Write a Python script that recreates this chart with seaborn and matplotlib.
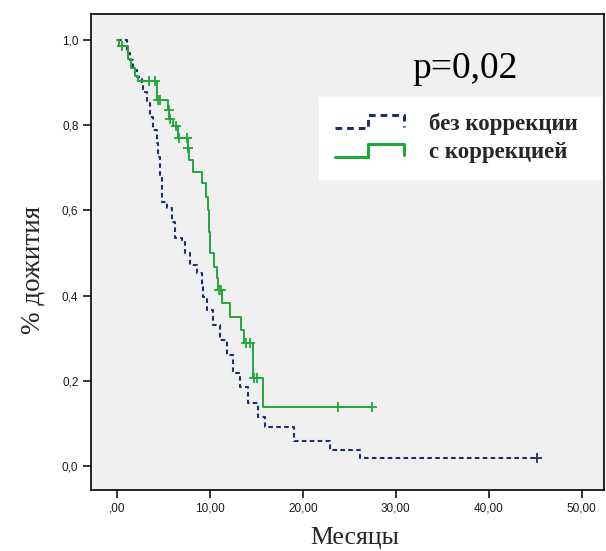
import matplotlib
matplotlib.use("Agg")
import matplotlib.pyplot as plt
import seaborn as sns
import pandas as pd
from matplotlib.lines import Line2D
from matplotlib.legend_handler import HandlerLine2D
from matplotlib.font_manager import FontProperties

# ---- data ----
blue_label = "без коррекции"
green_label = "с коррекцией"

blue_t = [0, 1.1, 1.4, 1.7, 2.2, 2.7, 2.8, 3.2, 3.6, 3.9, 4.3, 4.4, 4.6, 4.8, 5.4, 5.9, 6.2, 7.0,
          7.3, 7.9, 8.6, 9.1, 9.3, 9.7, 10.3, 11.1, 11.8, 12.5, 13.2, 14.1, 15.2, 15.9, 19.1,
          22.9, 26.1, 45.2]
blue_s = [1.0, 0.97, 0.953, 0.930, 0.913, 0.894, 0.878, 0.852, 0.819, 0.789, 0.758, 0.725,
          0.678, 0.620, 0.606, 0.573, 0.535, 0.526, 0.500, 0.472, 0.453, 0.420, 0.397, 0.366,
          0.331, 0.296, 0.261, 0.218, 0.185, 0.148, 0.115, 0.092, 0.059, 0.038, 0.020, 0.020]
blue_cens_t = [45.2]
blue_cens_s = [0.020]

green_t = [0, 0.2, 1.2, 1.5, 1.9, 2.3, 4.3, 5.5, 5.65, 6.0, 6.6, 7.6, 7.7, 8.2, 9.1, 9.6, 9.8,
           9.9, 10.0, 10.4, 10.8, 10.9, 11.3, 12.2, 13.4, 13.7, 14.6, 15.7, 27.4]
green_s = [1.0, 0.985, 0.955, 0.935, 0.915, 0.904, 0.859, 0.836, 0.815, 0.797, 0.770, 0.746,
           0.718, 0.691, 0.664, 0.632, 0.60, 0.55, 0.50, 0.468, 0.441, 0.413, 0.382, 0.350,
           0.319, 0.288, 0.206, 0.138, 0.138]
green_cens_t = [0.5, 3.4, 4.1, 4.4, 4.6, 5.55, 5.7, 6.4, 6.65, 7.5, 7.65, 11.0, 11.2, 13.9,
                14.3, 14.8, 15.1, 23.8, 27.4]
green_cens_s = [0.985, 0.904, 0.904, 0.859, 0.859, 0.836, 0.815, 0.797, 0.770, 0.770, 0.746,
                0.413, 0.413, 0.288, 0.288, 0.206, 0.206, 0.138, 0.138]

x_ticks = [0, 10, 20, 30, 40, 50]
x_ticklabels = [",00", "10,00", "20,00", "30,00", "40,00", "50,00"]
y_ticks = [0.0, 0.2, 0.4, 0.6, 0.8, 1.0]
y_ticklabels = ["0,0", "0,2", "0,4", "0,6", "0,8", "1,0"]
p_text = "p=0,02"
x_title = "Месяцы"
y_title = "% дожития"

blue_color = "#1f2f6b"
green_color = "#22a83a"

sns.set_theme(style="ticks")
plt.rcParams["font.family"] = ["Liberation Sans", "DejaVu Sans"]

fig = plt.figure(figsize=(6.06, 5.51), dpi=100)
fig.patch.set_facecolor("white")
ax = fig.add_axes([0.150, 0.1107, 0.8467, 0.864])
ax.set_facecolor("#f0f0f0")

blue_df = pd.DataFrame({"t": blue_t, "s": blue_s})
green_df = pd.DataFrame({"t": green_t, "s": green_s})

sns.lineplot(data=blue_df, x="t", y="s", ax=ax, estimator=None, sort=False,
             drawstyle="steps-post", color=blue_color, linewidth=1.5,
             linestyle=(0, (2.2, 1.6)))
sns.lineplot(data=green_df, x="t", y="s", ax=ax, estimator=None, sort=False,
             drawstyle="steps-post", color=green_color, linewidth=1.4)
sns.scatterplot(x=blue_cens_t, y=blue_cens_s, ax=ax, marker="+", s=55,
                color=blue_color, linewidth=1.3, zorder=4)
sns.scatterplot(x=green_cens_t, y=green_cens_s, ax=ax, marker="+", s=55,
                color=green_color, linewidth=1.3, zorder=4)

ax.set_xlim(-2.8, 52.4)
ax.set_ylim(-0.056, 1.061)
ax.set_xticks(x_ticks)
ax.set_xticklabels(x_ticklabels)
ax.set_yticks(y_ticks)
ax.set_yticklabels(y_ticklabels)
ax.tick_params(axis="both", labelsize=8.5, length=6, width=1.1, color="black",
               labelcolor="#1a1a1a", direction="out", pad=3)
for sp in ax.spines.values():
    sp.set_visible(True)
    sp.set_color("black")
    sp.set_linewidth(1.2)

serif = ["Liberation Serif", "DejaVu Serif"]
ax.set_xlabel(x_title, family=serif, fontsize=18.5)
ax.set_ylabel(y_title, family=serif, fontsize=19.5)
ax.xaxis.set_label_coords(0.515, -0.100)
ax.xaxis.label.set_va("center")
ax.yaxis.set_label_coords(-0.113, 0.462)
ax.yaxis.label.set_va("center")

ax.text(0.729, 0.885, p_text, transform=ax.transAxes, family=serif, fontsize=27,
        ha="center", va="center", color="black")


class HandlerStep(HandlerLine2D):
    def create_artists(self, legend, orig_handle, xdescent, ydescent, width, height,
                       fontsize, trans):
        x0 = -xdescent
        y0 = -ydescent
        xs = [x0, x0 + 0.47 * width, x0 + 0.47 * width, x0 + width, x0 + width]
        ys = [y0 + 0.05 * height, y0 + 0.05 * height, y0 + 0.95 * height,
              y0 + 0.95 * height, y0 + 0.15 * height]
        line = Line2D(xs, ys)
        self.update_prop(line, orig_handle, legend)
        line.set_transform(trans)
        return [line]


h_blue = Line2D([], [], color=blue_color, linewidth=2.2, linestyle=(0, (2.2, 1.6)))
h_green = Line2D([], [], color=green_color, linewidth=2.2)
leg = ax.legend(handles=[h_blue, h_green], labels=[blue_label, green_label],
                handler_map={Line2D: HandlerStep()}, loc="upper left",
                bbox_to_anchor=(0.445, 0.645, 0.547, 0.181), mode="expand",
                prop=FontProperties(family="Liberation Serif", weight="bold", size=16.5),
                frameon=True, fancybox=False, framealpha=1, edgecolor="white",
                facecolor="white", handlelength=3.0, handleheight=0.6,
                handletextpad=1.1, labelspacing=0.32, borderpad=0.7, borderaxespad=0)

fig.savefig("out.png", dpi=100, facecolor="white")
